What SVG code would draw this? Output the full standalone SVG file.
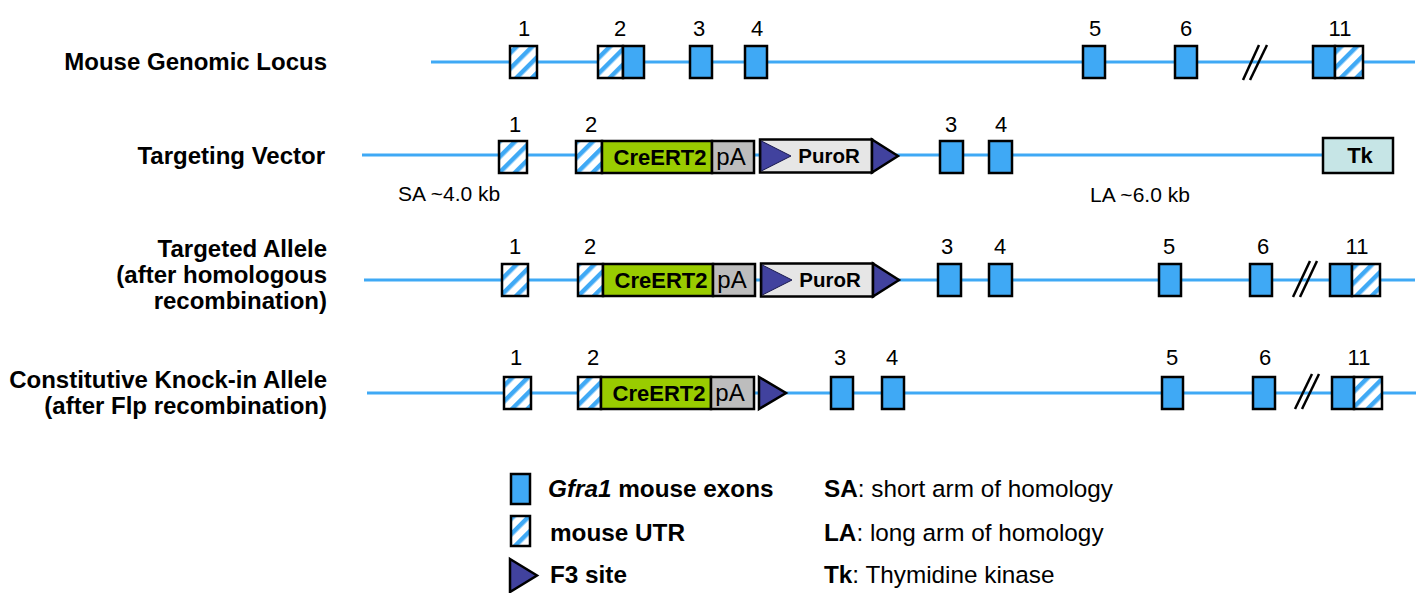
<svg xmlns="http://www.w3.org/2000/svg" width="1425" height="593" viewBox="0 0 1425 593">
  <defs>
    <!-- diagonal blue stripes for untranslated regions -->
    <pattern id="hatch" patternUnits="userSpaceOnUse" width="11" height="11" patternTransform="rotate(45)">
      <rect width="11" height="11" fill="#ffffff"/>
      <rect width="4.5" height="11" fill="#3fa9f5"/>
    </pattern>
    <style>
      text { font-family: "Liberation Sans", Arial, sans-serif; fill: #000; }
      .backbone { stroke: #3fa9f5; stroke-width: 3; fill: none; }
      .exon { fill: #3fa9f5; stroke: #000; stroke-width: 2.5; }
      .utr { fill: url(#hatch); stroke: #000; stroke-width: 2.5; }
      .cre { fill: #99cc00; stroke: #000; stroke-width: 2.5; }
      .pa { fill: #bdbdbd; stroke: #000; stroke-width: 2.5; }
      .puro { fill: #e6e6e6; stroke: #000; stroke-width: 2.5; }
      .f3 { fill: #41429e; stroke: #000; stroke-width: 2.5; stroke-linejoin: miter; }
      .f3in { fill: #41429e; stroke: #1c1c50; stroke-width: 1; }
      .tk { fill: #c6e5e6; stroke: #000; stroke-width: 2.5; }
      .brk { stroke: #000; stroke-width: 2.5; }
      .num { font-size: 22px; text-anchor: middle; }
      .title { font-size: 24px; font-weight: bold; text-anchor: end; }
      .box { font-size: 22px; font-weight: bold; text-anchor: middle; }
      .boxr { font-size: 24px; text-anchor: middle; }
      .arm { font-size: 21px; }
      .leg { font-size: 24.3px; }
      .b { font-weight: bold; }
    </style>
  </defs>

  <!-- DNA backbones -->
  <g id="connectors">
    <line class="backbone" x1="431" y1="62" x2="1415" y2="62"/>
    <line class="backbone" x1="362" y1="155" x2="1323" y2="155"/>
    <line class="backbone" x1="364" y1="280" x2="1415" y2="280"/>
    <line class="backbone" x1="367" y1="393" x2="1416" y2="393"/>
  </g>

  <!-- Row 1: mouse genomic locus -->
  <g id="row-locus">
    <text class="title" x="327" y="70">Mouse Genomic Locus</text>
    <g id="locus-e1"><rect class="utr" x="510" y="46" width="27" height="32"/><text class="num" x="524" y="36">1</text></g>
    <g id="locus-e2"><rect class="utr" x="598" y="46" width="25" height="32"/><rect class="exon" x="623" y="46" width="21" height="32"/><text class="num" x="620" y="36">2</text></g>
    <g id="locus-e3"><rect class="exon" x="690" y="46" width="22" height="32"/><text class="num" x="699" y="36">3</text></g>
    <g id="locus-e4"><rect class="exon" x="745" y="46" width="22" height="32"/><text class="num" x="757" y="36">4</text></g>
    <g id="locus-e5"><rect class="exon" x="1083" y="46" width="22" height="32"/><text class="num" x="1095" y="36">5</text></g>
    <g id="locus-e6"><rect class="exon" x="1175" y="46" width="22" height="32"/><text class="num" x="1186" y="36">6</text></g>
    <g id="locus-break"><line class="brk" x1="1243" y1="80" x2="1259" y2="45"/><line class="brk" x1="1250" y1="80" x2="1267" y2="45"/></g>
    <g id="locus-e11"><rect class="exon" x="1313" y="46" width="22" height="32"/><rect class="utr" x="1335" y="46" width="28" height="32"/><text class="num" x="1340" y="36">11</text></g>
  </g>

  <!-- Row 2: targeting vector -->
  <g id="row-vector">
    <text class="title" x="325" y="164">Targeting Vector</text>
    <text class="arm" x="398" y="201">SA ~4.0 kb</text>
    <text class="arm" x="1090" y="202">LA ~6.0 kb</text>
    <g id="vec-e1"><rect class="utr" x="499" y="141" width="28" height="32"/><text class="num" x="515" y="132">1</text></g>
    <g id="vec-e2"><rect class="utr" x="576" y="141" width="26" height="32"/><text class="num" x="591" y="132">2</text></g>
    <g id="vec-cre"><rect class="cre" x="602" y="141" width="110" height="32"/><text class="box" x="660" y="165">CreERT2</text></g>
    <g id="vec-pa"><rect class="pa" x="712" y="141" width="42" height="32"/><text class="boxr" x="731" y="165">pA</text></g>
    <g id="vec-puro">
      <rect class="puro" x="760" y="139.5" width="112" height="33"/>
      <polygon class="f3in" points="761.3,141 791,156 761.3,171"/>
      <polygon class="f3" points="872,139.5 898,156 872,172.5"/>
      <text class="box" x="829" y="163" style="font-size:20.5px">PuroR</text>
    </g>
    <g id="vec-e3"><rect class="exon" x="940" y="141" width="23" height="32"/><text class="num" x="951" y="132">3</text></g>
    <g id="vec-e4"><rect class="exon" x="989" y="141" width="23" height="32"/><text class="num" x="1001" y="132">4</text></g>
    <g id="vec-tk"><rect class="tk" x="1323" y="138" width="70" height="35"/><text class="box" x="1360" y="163">Tk</text></g>
  </g>

  <!-- Row 3: targeted allele -->
  <g id="row-targeted">
    <text class="title" x="327" y="257">Targeted Allele</text>
    <text class="title" x="327" y="283">(after homologous</text>
    <text class="title" x="327" y="309">recombination)</text>
    <g id="ta-e1"><rect class="utr" x="502" y="264" width="26" height="32"/><text class="num" x="515" y="254">1</text></g>
    <g id="ta-e2"><rect class="utr" x="578" y="264" width="25" height="32"/><text class="num" x="590" y="254">2</text></g>
    <g id="ta-cre"><rect class="cre" x="603" y="264" width="110" height="32"/><text class="box" x="661" y="288">CreERT2</text></g>
    <g id="ta-pa"><rect class="pa" x="713" y="264" width="42" height="32"/><text class="boxr" x="732" y="288">pA</text></g>
    <g id="ta-puro">
      <rect class="puro" x="761" y="263.5" width="112" height="33"/>
      <polygon class="f3in" points="762.3,265 792,280 762.3,295"/>
      <polygon class="f3" points="873,263.5 899,280 873,296.5"/>
      <text class="box" x="830" y="287" style="font-size:20.5px">PuroR</text>
    </g>
    <g id="ta-e3"><rect class="exon" x="938" y="264" width="23" height="32"/><text class="num" x="947" y="254">3</text></g>
    <g id="ta-e4"><rect class="exon" x="989" y="264" width="23" height="32"/><text class="num" x="1000" y="254">4</text></g>
    <g id="ta-e5"><rect class="exon" x="1159" y="264" width="22" height="32"/><text class="num" x="1169" y="254">5</text></g>
    <g id="ta-e6"><rect class="exon" x="1250" y="264" width="22" height="32"/><text class="num" x="1263" y="254">6</text></g>
    <g id="ta-break"><line class="brk" x1="1293" y1="297" x2="1310" y2="261"/><line class="brk" x1="1300" y1="297" x2="1317" y2="261"/></g>
    <g id="ta-e11"><rect class="exon" x="1330" y="264" width="22" height="32"/><rect class="utr" x="1352" y="264" width="28" height="32"/><text class="num" x="1357" y="254">11</text></g>
  </g>

  <!-- Row 4: constitutive knock-in allele -->
  <g id="row-knockin">
    <text class="title" x="327" y="388">Constitutive Knock-in Allele</text>
    <text class="title" x="327" y="414">(after Flp recombination)</text>
    <g id="ki-e1"><rect class="utr" x="504" y="377" width="27" height="32"/><text class="num" x="516" y="365">1</text></g>
    <g id="ki-e2"><rect class="utr" x="578" y="377" width="23" height="32"/><text class="num" x="593" y="365">2</text></g>
    <g id="ki-cre"><rect class="cre" x="601" y="377" width="110" height="32"/><text class="box" x="659" y="401">CreERT2</text></g>
    <g id="ki-pa"><rect class="pa" x="711" y="377" width="43" height="32"/><text class="boxr" x="730" y="401">pA</text></g>
    <g id="ki-f3"><polygon class="f3" points="759,377 786,393 759,409"/></g>
    <g id="ki-e3"><rect class="exon" x="831" y="377" width="22" height="32"/><text class="num" x="840" y="365">3</text></g>
    <g id="ki-e4"><rect class="exon" x="882" y="377" width="22" height="32"/><text class="num" x="892" y="365">4</text></g>
    <g id="ki-e5"><rect class="exon" x="1162" y="377" width="21" height="32"/><text class="num" x="1172" y="365">5</text></g>
    <g id="ki-e6"><rect class="exon" x="1253" y="377" width="22" height="32"/><text class="num" x="1265" y="365">6</text></g>
    <g id="ki-break"><line class="brk" x1="1295" y1="409" x2="1312" y2="374"/><line class="brk" x1="1302" y1="409" x2="1319" y2="374"/></g>
    <g id="ki-e11"><rect class="exon" x="1332" y="377" width="22" height="32"/><rect class="utr" x="1354" y="377" width="28" height="32"/><text class="num" x="1359" y="365">11</text></g>
  </g>

  <!-- Legend -->
  <g id="legend">
    <g id="leg-exon"><rect class="exon" x="511" y="474" width="19" height="30"/><text class="leg b" x="548" y="497"><tspan font-style="italic">Gfra1</tspan> mouse exons</text></g>
    <g id="leg-utr"><rect class="utr" x="511" y="516" width="19" height="30"/><text class="leg b" x="550" y="541">mouse UTR</text></g>
    <g id="leg-f3"><polygon class="f3" points="510,559 537,575.5 510,592"/><text class="leg b" x="550" y="583">F3 site</text></g>
    <text class="leg" x="824" y="497"><tspan class="b">SA</tspan>: short arm of homology</text>
    <text class="leg" x="824" y="541"><tspan class="b">LA</tspan>: long arm of homology</text>
    <text class="leg" x="824" y="583"><tspan class="b">Tk</tspan>: Thymidine kinase</text>
  </g>
</svg>
